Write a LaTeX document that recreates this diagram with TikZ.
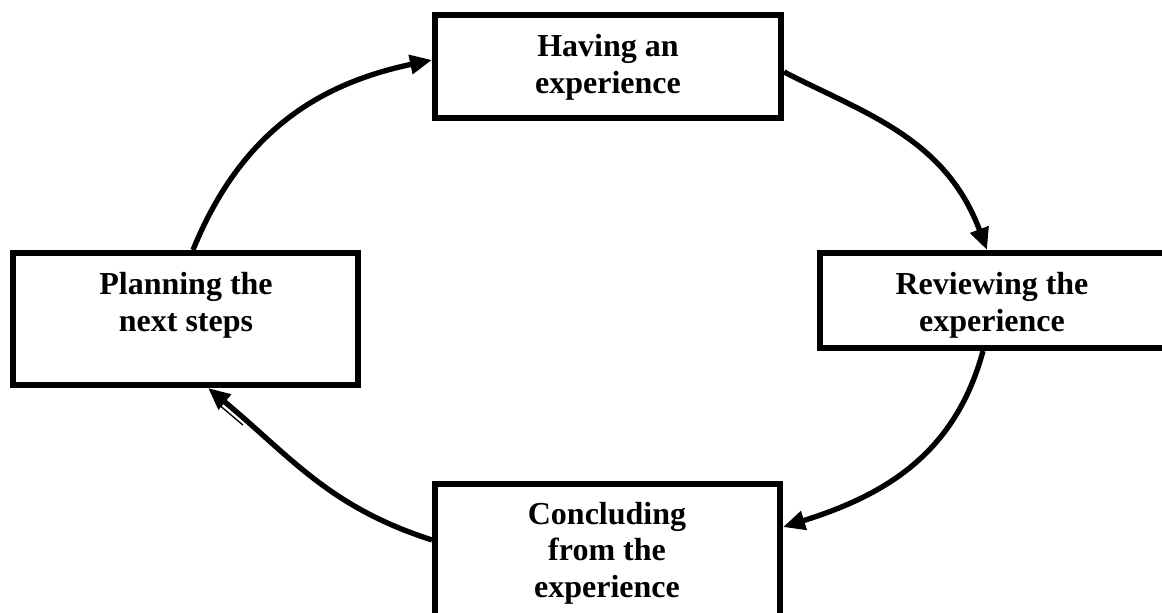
\documentclass[tikz,border=0pt]{standalone}
\usepackage{fontspec}
\setmainfont{Liberation Serif}
\usetikzlibrary{arrows.meta}
\begin{document}
\begin{tikzpicture}[x=0.75pt,y=-0.75pt,
  box/.style={draw=black,line width=4.5pt,fill=white,inner sep=0pt},
  label/.style={font=\fontsize{24pt}{27.5pt}\selectfont\bfseries,align=center,inner sep=0pt},
  flow/.style={line width=4pt,-{Triangle[length=16.5pt,width=14pt]}}]
\useasboundingbox (0,0) rectangle (1162,613);
\begin{scope}
\clip (0,0) rectangle (1162,613);
% boxes
\node[box,minimum width=259.5pt,minimum height=77.25pt] (top) at (608,66.5) {};
\node[box,minimum width=259.5pt,minimum height=71.25pt] (right) at (993,300.5) {};
\node[box,minimum width=258.75pt,minimum height=99pt] (left) at (185.5,319) {};
\node[box,minimum width=258.75pt,minimum height=105.75pt] (bottom) at (607.5,554.5) {};
% texts
\node[label] (toptext) at (608,67) {Having an\\experience};
\node[label] (righttext) at (992,305) {Reviewing the\\experience};
\node[label] (lefttext) at (186,305) {Planning the\\next steps};
\node[label] (bottomtext) at (607,553) {Concluding\\from the\\experience};
% connectors
\draw[flow] ([yshift=-4.1pt]top.east) .. controls +(82,42) and +(-42,-112) .. ([xshift=-4.5pt]right.north);
\draw[flow] ([xshift=-7.5pt]right.south) .. controls +(-28,103) and +(102,-32) .. ([yshift=20.6pt]bottom.east);
\draw[flow] ([yshift=10.9pt]bottom.west) .. controls +(-103,-33) and +(83,69) .. ([xshift=16.9pt]left.south);
\draw[flow] ([xshift=5.6pt]left.north) .. controls +(46,-113) and +(-119,25) .. ([yshift=4.9pt]top.west);
% thin stroke beside the lower-left arrowhead
\draw[line width=1pt] ([xshift=23.6pt,yshift=-11.3pt]left.south) -- ++(26,22);
\end{scope}
\end{tikzpicture}
\end{document}
